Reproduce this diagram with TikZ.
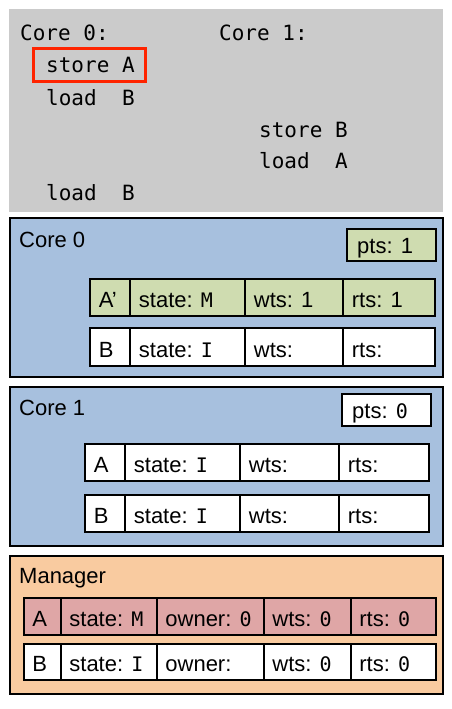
\documentclass[tikz,border=0pt]{standalone}
\usepackage{fontspec}
\setmainfont{Liberation Sans}
\newfontfamily\codefont{DejaVu Sans Mono}
\newcommand\cm[1]{{\codefont\fontsize{20pt}{22pt}\selectfont #1}}
\usetikzlibrary{fit}
\definecolor{bggray}{HTML}{CBCBCB}
\definecolor{coreblue}{HTML}{A7C0DE}
\definecolor{cellgreen}{HTML}{CFDCB0}
\definecolor{mgrpeach}{HTML}{F9CBA0}
\definecolor{cellpink}{HTML}{DFA6A6}
\definecolor{hlred}{HTML}{FF2400}
\tikzset{
  outerbox/.style={draw=black, line width=2.2pt, inner sep=0pt},
  cell/.style={draw=black, line width=2.6pt, inner sep=0pt},
  txt/.style={anchor=base west, inner sep=0pt, font=\fontsize{22pt}{26pt}\selectfont},
  code/.style={anchor=base west, inner sep=0pt, font=\codefont\fontsize{21pt}{25pt}\selectfont},
}
\begin{document}
\begin{tikzpicture}[x=1pt,y=-1pt]
\useasboundingbox (0,0) rectangle (451,709);
% program panel
\node[fill=bggray, inner sep=0pt, fit={(9,9)(443,212)}] (prog) {};
\node[draw=hlred, line width=3.6pt, inner sep=0pt, fit={(33.5,48.5)(145.5,81.5)}] (hl) {};
\node[code] (c0h) at (20,41) {Core 0:};
\node[code] (c0s) at (46,73) {store A};
\node[code] (c0l) at (46,105) {load\ \ B};
\node[code] (c0l2) at (46,200) {load\ \ B};
\node[code] (c1h) at (219,41) {Core 1:};
\node[code] (c1s) at (259,137) {store B};
\node[code] (c1l) at (259,168) {load\ \ A};

% Core 0
\node[outerbox, fill=coreblue, fit={(10,218)(443,377)}] (core0) {};
\node[txt] (core0t) at (19,247) {Core 0};
\node[cell, fill=cellgreen, fit={(347,229)(436,261)}] (pts0) {};
\node[txt] (pts0t) at (357,253) {pts: 1};
\foreach \a/\b/\t [count=\i] in {90/130/{A’}, 130/245/{state: \cm{M}}, 245/343/{wts: 1}, 343/435/{rts: 1}} {
  \node[cell, fill=cellgreen, fit={(\a,279)(\b,316)}] (c0a\i) {};
  \node[txt] (c0a\i t) at ([xshift=10pt,yshift=9.5pt]c0a\i.south west) {\t};
}
\foreach \a/\b/\t [count=\i] in {90/130/{B}, 130/245/{state: \cm{I}}, 245/343/{wts:}, 343/435/{rts:}} {
  \node[cell, fill=white, fit={(\a,328)(\b,366)}] (c0b\i) {};
  \node[txt] (c0b\i t) at ([xshift=10pt,yshift=9.5pt]c0b\i.south west) {\t};
}

% Core 1
\node[outerbox, fill=coreblue, fit={(10,387)(443,546)}] (core1) {};
\node[txt] (core1t) at (19,415) {Core 1};
\node[cell, fill=white, fit={(342,394)(431,426)}] (pts1) {};
\node[txt] (pts1t) at (352,418) {pts: \cm{0}};
\foreach \a/\b/\t [count=\i] in {85/125/{A}, 125/240/{state: \cm{I}}, 240/339/{wts:}, 339/429/{rts:}} {
  \node[cell, fill=white, fit={(\a,444)(\b,481)}] (c1a\i) {};
  \node[txt] (c1a\i t) at ([xshift=10pt,yshift=9.5pt]c1a\i.south west) {\t};
}
\foreach \a/\b/\t [count=\i] in {85/125/{B}, 125/240/{state: \cm{I}}, 240/339/{wts:}, 339/429/{rts:}} {
  \node[cell, fill=white, fit={(\a,495)(\b,532)}] (c1b\i) {};
  \node[txt] (c1b\i t) at ([xshift=10pt,yshift=9.5pt]c1b\i.south west) {\t};
}

% Manager
\node[outerbox, fill=mgrpeach, fit={(10,556)(443,694)}] (mgr) {};
\node[txt] (mgrt) at (19,583) {Manager};
\foreach \a/\b/\t [count=\i] in {24/61/{A}, 61/157/{state: \cm{M}}, 157/264/{owner: \cm{0}}, 264/351/{wts: \cm{0}}, 351/436/{rts: \cm{0}}} {
  \node[cell, fill=cellpink, fit={(\a,598)(\b,635)}] (ma\i) {};
  \node[txt] (ma\i t) at ([xshift=9.5pt,yshift=10pt]ma\i.south west) {\t};
}
\foreach \a/\b/\t [count=\i] in {24/61/{B}, 61/157/{state: \cm{I}}, 157/264/{owner:}, 264/351/{wts: \cm{0}}, 351/436/{rts: \cm{0}}} {
  \node[cell, fill=white, fit={(\a,644)(\b,680)}] (mb\i) {};
  \node[txt] (mb\i t) at ([xshift=9.5pt,yshift=9.5pt]mb\i.south west) {\t};
}
\end{tikzpicture}
\end{document}
